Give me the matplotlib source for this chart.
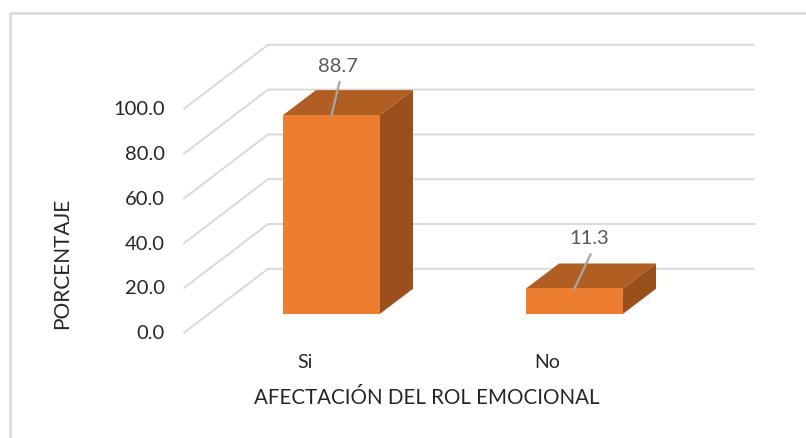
import matplotlib
matplotlib.use("Agg")
import matplotlib.pyplot as plt
from matplotlib.lines import Line2D
from matplotlib.patches import Polygon, Rectangle

plt.rcParams['font.family'] = ['Lato', 'DejaVu Sans']

categories = ["Si", "No"]
values = [88.7, 11.3]
y_ticks = [0, 20, 40, 60, 80, 100]
y_tick_labels = ["0.0", "20.0", "40.0", "60.0", "80.0", "100.0"]
x_label = "AFECTACIÓN DEL ROL EMOCIONAL"
y_label = "PORCENTAJE"

W, H = 806, 439
fig = plt.figure(figsize=(W / 100, H / 100), dpi=100)
ax = fig.add_axes([0, 0, 1, 1])

PX_X = 243.0    # pixels per category
PX_Y = 2.24     # pixels per percent
X0 = 331.5      # pixel of first category
Y0 = 333.8      # pixel of value 0 on the front plane
ax.set_xlim((0 - X0) / PX_X, (W - X0) / PX_X)
ax.set_ylim((Y0 - H) / PX_Y, (Y0 - 0) / PX_Y)
ax.axis("off")

def dx(px):
    return px / PX_X

def dy(px):
    return px / PX_Y

# chart frame: left and top edges only
fig.add_artist(Line2D([9.5 / W, 9.5 / W, 1], [0, 1 - 13.5 / H, 1 - 13.5 / H],
                      transform=fig.transFigure, color="#d9d9d9", lw=1.8))

# gridlines: oblique wall + back plane
grid = "#d9d9d9"
x_left = dx(184 - X0)
x_back = dx(268 - X0)
x_right = dx(754 - X0)
depth = dy(64)
for t in y_ticks:
    ax.plot([x_left, x_back, x_right], [t, t + depth, t + depth], color=grid, lw=1.4,
            solid_joinstyle="miter", zorder=1)

# bars
bar_w = 97 / PX_X
front_off = dy(19)
side_dx, side_dy = dx(33), dy(25)
for i, v in enumerate(values):
    l, r = i - bar_w / 2, i + bar_w / 2
    b, t = front_off, front_off + v
    ax.add_patch(Polygon([(l, t), (r, t), (r + side_dx, t + side_dy), (l + side_dx, t + side_dy)],
                         fc="#b15e22", ec="none", zorder=3))
    ax.add_patch(Polygon([(r, b), (r + side_dx, b + side_dy), (r + side_dx, t + side_dy), (r, t)],
                         fc="#9a501c", ec="none", zorder=3))
    ax.add_patch(Rectangle((l, b), r - l, t - b, fc="#ed7d31", ec="none", zorder=4))

# value labels with leader lines
label_off = [(6, 50), (15, 51)]
leader_off = [(8, 33), (16, 34)]
for i, v in enumerate(values):
    top = front_off + v
    ax.plot([i, i + dx(leader_off[i][0])], [top, top + dy(leader_off[i][1])],
            color="#a6a6a6", lw=1.6, zorder=5)
    ax.text(i + dx(label_off[i][0]), top + dy(label_off[i][1]), f"{v:.1f}",
            ha="center", va="center", fontsize=14.5, color="#595959", zorder=6)

# y tick labels
for t, s in zip(y_ticks, y_tick_labels):
    ax.text(dx(165 - X0), t, s, ha="right", va="center", fontsize=14.5, color="#262626")

# category labels
cat_px = [305, 547]
for c, p in zip(categories, cat_px):
    ax.text(dx(p - X0), dy(Y0 - 363), c, ha="center", va="center", fontsize=14, color="#262626")

ax.text(dx(427 - X0), dy(Y0 - 398), x_label, ha="center", va="center", fontsize=14.8, color="#262626")
ax.text(dx(62 - X0), dy(Y0 - 263), y_label, ha="center", va="center", rotation=90,
        fontsize=15, color="#262626")

fig.savefig("out.png", dpi=100)
